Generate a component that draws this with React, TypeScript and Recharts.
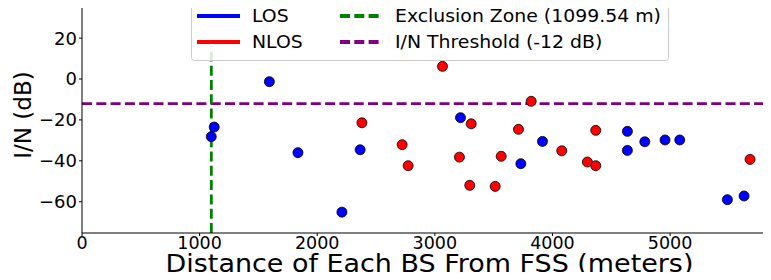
import { ScatterChart, Scatter, XAxis, YAxis, ReferenceLine, Legend } from "recharts";

// I/N per base station, split by propagation condition
const LOS_DIST = [1099, 1124, 1593, 1836, 2210, 2365, 3218, 3731, 3915, 4637, 4637, 4785, 4957, 5082, 5487, 5629];
const LOS_IN = [-28.2, -23.5, -1.3, -36, -65.1, -34.6, -18.9, -41.4, -30.5, -25.6, -34.9, -30.7, -29.8, -29.8, -59, -57.2];

const NLOS_DIST = [2380, 2722, 2773, 3065, 3209, 3297, 3309, 3513, 3564, 3711, 3819, 4079, 4297, 4368, 4368, 5680];
const NLOS_IN = [-21.4, -32.1, -42.4, 6.2, -38.2, -52, -21.9, -52.5, -37.8, -24.6, -10.9, -35.1, -40.6, -25.1, -42.4, -39.3];

const EXCLUSION_M = 1099.54;
const THRESHOLD_DB = -12;

const X_TICKS = [0, 1000, 2000, 3000, 4000, 5000];
const Y_TICKS = [-60, -40, -20, 0, 20];
const X_DOMAIN: [number, number] = [0, 5909];
const Y_DOMAIN: [number, number] = [-75.3, 36.2];

const FONT = "DejaVu Sans";

const losData = LOS_DIST.map((d, i) => ({ dist: d, in: LOS_IN[i] }));
const nlosData = NLOS_DIST.map((d, i) => ({ dist: d, in: NLOS_IN[i] }));

const minus = (v: number) => String(v).replace("-", "\u2212");

const dot = (fill: string) => (p: any) => (
  <circle cx={p.cx} cy={p.cy} r={5} fill={fill} stroke="#000" strokeWidth={0.8} />
);

// ── matplotlib-style legend box ─────────────────────────────────────────────

function LegendBox() {
  const items = [
    { label: "LOS", color: "#0000ff", dash: undefined, x: 6, y: 13 },
    { label: "NLOS", color: "#ff0000", dash: undefined, x: 6, y: 39 },
    { label: "Exclusion Zone (1099.54 m)", color: "#008000", dash: "10 4.3", x: 149, y: 13 },
    { label: "I/N Threshold (-12 dB)", color: "#800080", dash: "10 4.3", x: 149, y: 39 },
  ];
  return (
    <svg width={478} height={58} style={{ display: "block", overflow: "visible" }}>
      <rect x={0.5} y={0.5} width={477} height={57} rx={3} fill="#fff" fillOpacity={0.85} stroke="#cccccc" />
      {items.map((it) => (
        <g key={it.label}>
          <line x1={it.x} x2={it.x + 43} y1={it.y} y2={it.y} stroke={it.color} strokeWidth={4} strokeDasharray={it.dash} />
          <text
            transform={`translate(${it.x + 55},${it.y}) scale(1.02,1)`}
            dominantBaseline="central"
            fontSize={18.5}
            fontFamily={FONT}
            fill="#000"
          >
            {it.label}
          </text>
        </g>
      ))}
    </svg>
  );
}

export default function App() {
  return (
    <div style={{ position: "relative", width: 771, height: 280, overflow: "hidden", margin: -8, background: "#fff" }}>
      <ScatterChart width={790} height={280} margin={{ top: 5, right: 13, bottom: 0, left: 0 }}>
        <XAxis
          type="number"
          dataKey="dist"
          domain={X_DOMAIN}
          ticks={X_TICKS}
          allowDataOverflow
          height={47}
          tickSize={3}
          tickMargin={1}
          axisLine={{ stroke: "#000" }}
          tickLine={{ stroke: "#000" }}
          tick={{ fontSize: 17.5, fill: "#000", fontFamily: FONT }}
          label={{
            content: ({ viewBox }: any) => (
              <text
                transform={`translate(${viewBox.x + viewBox.width / 2},272) scale(1.1,1)`}
                textAnchor="middle"
                fontSize={24.5}
                fontFamily={FONT}
                fill="#000"
              >
                Distance of Each BS From FSS (meters)
              </text>
            ),
          }}
        />
        <YAxis
          type="number"
          dataKey="in"
          domain={Y_DOMAIN}
          ticks={Y_TICKS}
          allowDataOverflow
          width={82}
          tickSize={3}
          tickMargin={2}
          tickFormatter={minus}
          axisLine={{ stroke: "#000" }}
          tickLine={{ stroke: "#000" }}
          tick={{ fontSize: 18, fill: "#000", fontFamily: FONT }}
          label={{
            content: () => (
              <text
                x={31}
                y={115}
                transform="rotate(-90 31 115)"
                textAnchor="middle"
                fontSize={23}
                fontFamily={FONT}
                fill="#000"
              >
                I/N (dB)
              </text>
            ),
          }}
        />
        <ReferenceLine y={Y_DOMAIN[1]} stroke="#000" strokeWidth={1} />
        <ReferenceLine y={THRESHOLD_DB} stroke="#800080" strokeWidth={2.8} strokeDasharray="10 4.3" />
        <ReferenceLine
          segment={[
            { x: EXCLUSION_M, y: Y_DOMAIN[0] },
            { x: EXCLUSION_M, y: 16 },
          ]}
          stroke="#008000"
          strokeWidth={2.8}
          strokeDasharray="10 4.3"
        />
        <Scatter data={losData} fill="#0000ff" shape={dot("#0000ff")} isAnimationActive={false} />
        <Scatter data={nlosData} fill="#ff0000" shape={dot("#ff0000")} isAnimationActive={false} />
        <Legend
          layout="horizontal"
          verticalAlign="middle"
          align="center"
          wrapperStyle={{ left: 191, top: 3, width: 478, height: 58 }}
          content={() => <LegendBox />}
        />
      </ScatterChart>
    </div>
  );
}
